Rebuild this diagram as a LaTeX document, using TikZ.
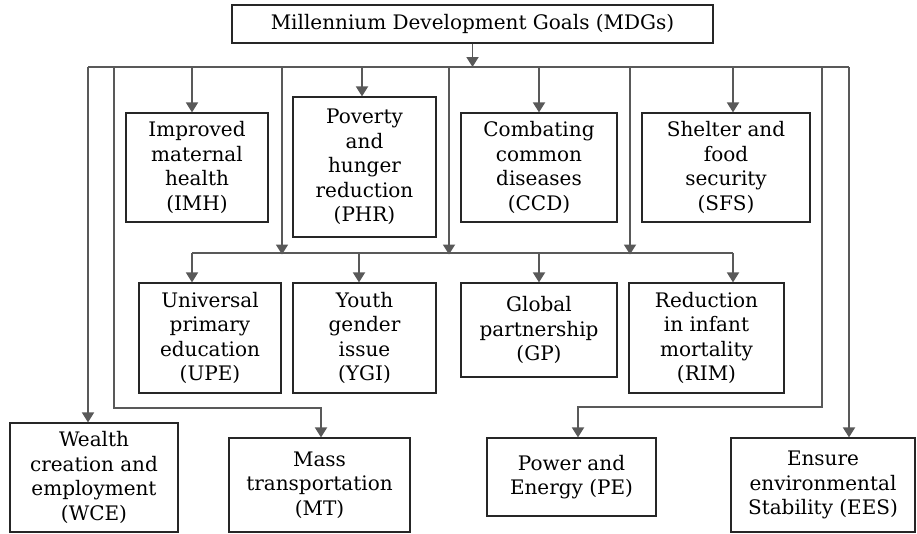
\documentclass[tikz,border=0pt]{standalone}
\usepackage{fontspec}
\setmainfont{DejaVu Serif}
\usetikzlibrary{arrows.meta}

\begin{document}
\begin{tikzpicture}[x=1pt, y=-1pt,
        b/.style={draw=black!85, line width=1.2pt, inner sep=0pt},
        l/.style={draw=black!65, line width=1.8pt},
        a/.style={l, -{Triangle[length=10pt,width=12pt]}},
        every node/.style={align=center, font=\fontsize{20}{24.5}\selectfont}]
        \useasboundingbox (0,0) rectangle (917,533);

        \node[b, minimum width=481, minimum height=38] (mdg) at (472.5,24) {Millennium Development Goals (MDGs)};

        % first row
        \node[b, minimum width=142, minimum height=109] (imh) at (197,167.5) {Improved\\maternal\\health\\(IMH)};
        \node[b, minimum width=143, minimum height=140] (phr) at (364.5,167) {Poverty\\and\\hunger\\reduction\\(PHR)};
        \node[b, minimum width=156, minimum height=109] (ccd) at (539,167.5) {Combating\\common\\diseases\\(CCD)};
        \node[b, minimum width=168, minimum height=109] (sfs) at (726,167.5) {Shelter and\\food\\security\\(SFS)};

        % second row
        \node[b, minimum width=142, minimum height=110] (upe) at (210,338) {Universal\\primary\\education\\(UPE)};
        \node[b, minimum width=143, minimum height=110] (ygi) at (364.5,338) {Youth\\gender\\issue\\(YGI)};
        \node[b, minimum width=156, minimum height=94] (gp) at (539,330) {Global\\partnership\\(GP)};
        \node[b, minimum width=155, minimum height=110] (rim) at (706.5,338) {Reduction\\in infant\\mortality\\(RIM)};

        % bottom row
        \node[b, minimum width=168, minimum height=109] (wce) at (94,477.5) {Wealth\\creation and\\employment\\(WCE)};
        \node[b, minimum width=181, minimum height=94] (mt) at (319.5,485) {Mass\\transportation\\(MT)};
        \node[b, minimum width=169, minimum height=78] (pe) at (571.5,477) {Power and\\Energy (PE)};
        \node[b, minimum width=184, minimum height=94] (ees) at (823,485) {Ensure\\environmental\\Stability (EES)};

        % bus lines
        \foreach \n/\x in {wce/88, mt/114, imh/192, m1/282, phr/362, m2/449, ccd/539, m3/630, sfs/733, pe/822, ees/849}
            \coordinate (t-\n) at (\x,67);
        \foreach \n/\x in {upe/192, m1/282, ygi/359, m2/449, gp/539, m3/630, rim/733}
            \coordinate (m-\n) at (\x,253);
        \coordinate (k-mt) at (114,408);
        \coordinate (k-pe) at (822,407);

        \draw[a] (mdg.south) -- (mdg.south |- t-wce);
        \draw[l] (t-wce) -- (t-ees);
        \draw[l] (m-upe) -- (m-rim);

        \foreach \n in {imh, phr, ccd, sfs, wce, ees}
            \draw[a] (t-\n) -- (t-\n |- \n.north);
        \foreach \n in {m1, m2, m3}
            \draw[a] (t-\n) -- ([yshift=-1.5pt]m-\n);
        \foreach \n in {upe, ygi, gp, rim}
            \draw[a] (m-\n) -- (m-\n |- \n.north);

        \draw[a] (t-mt) -- (k-mt) -| ([xshift=1.5pt]mt.north);
        \draw[a] (t-pe) -- (k-pe) -| ([xshift=6.5pt]pe.north);
    \end{tikzpicture}
\end{document}
